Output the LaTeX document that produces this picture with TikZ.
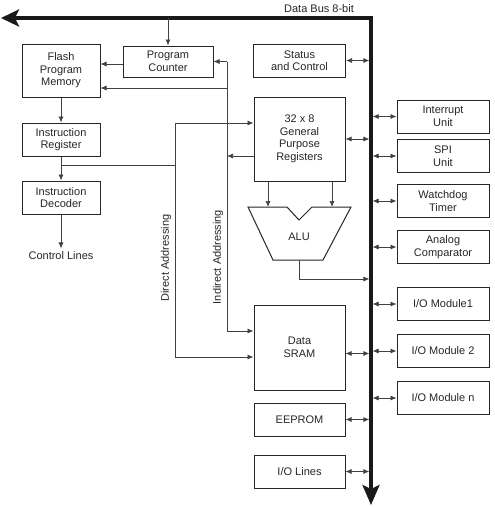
\documentclass[tikz,border=0pt]{standalone}
\usepackage{fontspec}
\setmainfont{Liberation Sans}
\usetikzlibrary{arrows.meta}
\begin{document}
\begin{tikzpicture}[x=1pt, y=-1pt,
    box/.style={draw=black!85, line width=1pt, align=center, inner sep=0pt,
        minimum width=#1, text=black!85, font=\fontsize{11}{12.5}\selectfont},
    box/.default=78pt,
    conn/.style={draw=black!75, line width=0.7pt, -{Latex[length=6pt,width=5pt]}},
    dbl/.style={draw=black!75, line width=0.7pt, {Latex[length=6pt,width=5pt]}-{Latex[length=6pt,width=5pt]}},
    bus/.style={draw=black!90, line width=3.2pt},
    lbl/.style={text=black!85, font=\fontsize{11}{12.5}\selectfont}]
    \useasboundingbox (0,0) rectangle (495,507);
    % data bus
    \coordinate (busl) at (1,18);
    \coordinate (busc) at (371,18);
    \coordinate (busb) at (371,505);
    \draw[bus, {Stealth[length=18pt,width=17pt,inset=4pt]}-{Stealth[length=20pt,width=17pt,inset=4pt]}]
        (busl) -- (busc) -- (busb);
    \node[lbl] (buslabel) at (319,9) {Data Bus 8-bit};
    % left column
    \node[box, minimum height=53pt] (flash) at (61,70.5) {Flash\\Program\\Memory};
    \node[box=90pt, minimum height=31pt] (pc) at (168,61.5) {Program\\Counter};
    \node[box, minimum height=33pt] (ir) at (61,139.5) {Instruction\\Register};
    \node[box, minimum height=33pt] (dec) at (61,197.5) {Instruction\\Decoder};
    \node[lbl] (ctrl) at (61,256) {Control Lines};
    % middle column
    \node[box=92pt, minimum height=33pt] (status) at (299.5,60.5) {Status\\and Control};
    \node[box=91pt, minimum height=84pt] (gpr) at (299.5,139) {32 x 8\\General\\Purpose\\Registers};
    \node[box=91pt, minimum height=85pt] (sram) at (299.5,347.5) {Data\\SRAM};
    \node[box=91pt, minimum height=33pt] (eeprom) at (299.5,419.5) {EEPROM};
    \node[box=91pt, minimum height=33pt] (iolines) at (299.5,471.5) {I/O Lines};
    % ALU
    \coordinate (aluinl) at (268,207);
    \coordinate (aluinr) at (332,207);
    \coordinate (aluout) at (299,260);
    \coordinate (aluturn) at (299,279);
    \draw[draw=black!85, line width=1pt] (248,207) -- (287,207) -- (299,220) -- (312,207)
        -- (351,207) -- (323,260) -- (273,260) -- cycle;
    \node[lbl] (alu) at (299,237) {ALU};
    % right column
    \foreach \n/\y/\t in {intu/116.5/{Interrupt\\Unit}, spi/156/{SPI\\Unit},
        wdt/201/{Watchdog\\Timer}, ana/247/{Analog\\Comparator}, io1/304/{I/O Module1},
        io2/351/{I/O Module 2}, ion/398/{I/O Module n}}{
        \node[box=92pt, minimum height=33pt] (\n) at (443,\y) {\t};
        \draw[dbl, shorten <=1.6pt] (\n.west -| busc) -- (\n.west);
    };
    \foreach \n in {status,gpr,eeprom,iolines}
        \draw[dbl, shorten >=1.6pt] (\n.east) -- (\n.east -| busc);
    \draw[dbl, shorten >=1.6pt] ([yshift=-6pt]sram.east) -- ([yshift=-6pt]sram.east -| busc);
    % instruction path
    \draw[conn] (pc.north |- busc) -- (pc.north);
    \draw[conn] ([yshift=-2.5pt]pc.west) -- ([yshift=-2.5pt]pc.west -| flash.east);
    \draw[conn] (flash.south) -- (ir.north);
    \draw[conn] (ir.south) -- (dec.north);
    \draw[conn] (dec.south) -- (ctrl.north);
    % ALU connections
    \draw[conn] (gpr.south -| aluinl) -- (aluinl);
    \draw[conn] (gpr.south -| aluinr) -- (aluinr);
    \draw[conn, shorten >=1.6pt] (aluout) -- (aluturn) -- (aluturn -| busc);
    % direct addressing
    \coordinate (irtap) at (61,165);
    \coordinate (dir) at (175,123);
    \coordinate (dirlow) at (175,357);
    \draw[draw=black!75, line width=0.7pt] (irtap) -- (irtap -| dir);
    \draw[conn] (dir) -- (dir -| gpr.west);
    \draw[conn] (dir) -- (dirlow) -- (dirlow -| sram.west);
    \node[lbl, rotate=90] (diraddr) at (166,258) {Direct Addressing};
    % indirect addressing
    \coordinate (ind) at (227,61.5);
    \coordinate (indlow) at (227,331);
    \draw[conn] ([yshift=-17pt]gpr.west) -- ([yshift=-17pt]gpr.west -| ind);
    \draw[conn] (ind) -- (pc.east);
    \draw[conn] (ind |- 0,88) -- (flash.east |- 0,88);
    \draw[conn] (ind) -- (indlow) -- (indlow -| sram.west);
    \node[lbl, rotate=90] (indaddr) at (218,257) {Indirect Addressing};
\end{tikzpicture}
\end{document}
